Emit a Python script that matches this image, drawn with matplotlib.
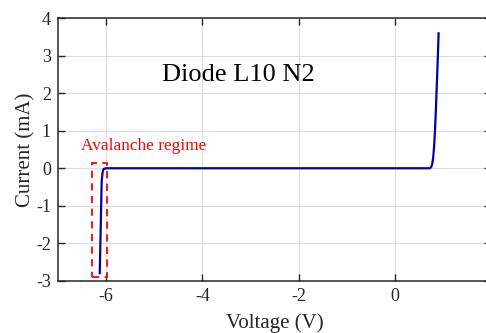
import numpy as np
import matplotlib
matplotlib.use('Agg')
import matplotlib.pyplot as plt
from matplotlib.patches import Rectangle

plt.rcParams['font.family'] = ['Liberation Serif', 'DejaVu Serif']
plt.rcParams['mathtext.fontset'] = 'stix'

# measured I-V sweep (V, mA)
voltage = [-6.13, -6.11, -6.09, -6.07, -6.05, -6.0, -5.0, -4.0, -3.0, -2.0, -1.0,
           0.0, 0.5, 0.72, 0.75, 0.77, 0.79, 0.81, 0.83, 0.85, 0.87, 0.89, 0.905]
current = [-2.8, -1.6, -0.35, -0.1, -0.02, 0.0, 0.0, 0.0, 0.0, 0.0, 0.0,
           0.0, 0.0, 0.0, 0.03, 0.1, 0.25, 0.55, 1.0, 1.6, 2.3, 3.0, 3.6]

xticks = [-6, -4, -2, 0]
yticks = [-3, -2, -1, 0, 1, 2, 3, 4]

txt = '#262626'

fig = plt.figure(figsize=(4.86, 3.33), dpi=100)
ax = fig.add_axes([0.119, 0.157, 0.892, 0.788])

ax.plot(voltage, current, color='#0000a8', lw=1.6)

# avalanche breakdown box
box = Rectangle((-6.30, -2.91), 0.33, 3.04, fill=False, ec='red', ls=(0, (4, 3)), lw=1.3)
ax.add_patch(box)
ax.text(-6.52, 0.48, 'Avalanche regime', color='red', fontsize=12.4, va='baseline')
ax.text(-4.83, 2.33, 'Diode L10 N2', color='black', fontsize=19, va='baseline')

ax.set_xlim(-7, 2)
ax.set_ylim(-3, 4)
ax.set_xticks(xticks)
ax.set_yticks(yticks)
ax.set_xticklabels([str(t) for t in xticks])
ax.set_yticklabels([str(t) for t in yticks])
ax.grid(True, color='#dcdcdc', lw=0.8)
ax.set_axisbelow(True)
ax.tick_params(direction='in', length=5, width=1, colors=txt, labelsize=13,
               top=True, right=True, pad=5)
for s in ax.spines.values():
    s.set_color(txt)
    s.set_linewidth(1.1)

ax.set_xlabel('Voltage (V)', fontsize=15, color=txt, labelpad=6)
ax.set_ylabel('Current (mA)', fontsize=15, color=txt, labelpad=0)

fig.savefig('out.png', dpi=100)
